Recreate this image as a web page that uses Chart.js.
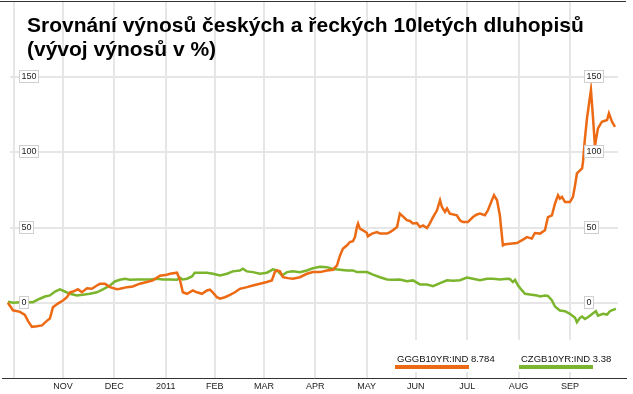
<!DOCTYPE html>
<html>
<head>
<meta charset="utf-8">
<script src="https://cdn.jsdelivr.net/npm/chart.js@4/dist/chart.umd.min.js"></script>
<style>
  html, body { margin: 0; padding: 0; background: #fff; }
  #wrap { width: 633px; height: 394px; position: relative; }
</style>
</head>
<body>
<div id="wrap"><canvas id="yields"></canvas></div>
<script>
/* ---- data: x = trading days since 1 Oct 2010, y = yield change in % ---- */
const titleLines  = ['Srovnání výnosů českých a řeckých 10letých dluhopisů', '(vývoj výnosů v %)'];
const monthStarts = [0, 21, 43, 65, 86, 107, 129, 151, 172, 194, 216, 238];
const monthLabels = ['', 'NOV', 'DEC', '2011', 'FEB', 'MAR', 'APR', 'MAY', 'JUN', 'JUL', 'AUG', 'SEP'];
const yTicks      = [0, 50, 100, 150];

const seriesNames = ['GGGB10YR:IND', 'CZGB10YR:IND'];
const lastValues  = ['8.784', '3.38'];

const grDays = [-2.6, -0.4, 2.6, 4.7, 6.0, 7.7, 9.8, 12.0, 14.1, 15.4, 16.7, 18.8, 21.0, 22.7, 24.0, 25.3,
  27.4, 29.1, 31.3, 33.4, 35.5, 36.8, 39.0, 41.1, 44.1, 45.4, 48.4, 50.9, 53.9, 56.9, 59.5, 62.5, 65.5,
  66.8, 69.8, 71.1, 72.3, 74.1, 76.6, 78.3, 80.5, 82.6, 83.9, 85.2, 86.9, 88.2, 90.3, 92.5, 94.6, 96.7,
  99.7, 102.3, 105.3, 108.3, 110.4, 111.7, 112.6, 113.9, 115.2, 117.3, 119.4, 122.4, 125.4, 128.0, 131.0,
  134.0, 136.6, 138.3, 139.6, 140.8, 142.6, 143.8, 145.1, 146.0, 146.8, 147.3, 148.1, 149.4, 151.1, 151.5,
  153.3, 155.4, 156.7, 159.7, 161.0, 162.2, 164.0, 165.2, 166.5, 168.2, 169.5, 170.8, 172.5, 173.8, 175.1,
  176.8, 178.1, 179.4, 181.1, 182.4, 183.2, 184.5, 185.4, 186.6, 189.6, 190.9, 192.2, 194.3, 196.5, 198.2,
  199.5, 201.6, 202.9, 204.6, 205.5, 206.8, 208.0, 209.3, 210.2, 212.3, 215.3, 217.9, 219.6, 221.7, 223.0,
  225.2, 227.3, 228.6, 230.3, 231.6, 232.9, 233.7, 234.6, 235.9, 238.0, 239.3, 240.2, 241.0, 243.2, 243.6,
  244.4, 245.3, 247.0, 247.9, 248.7, 249.1, 250.0, 251.7, 253.9, 254.7, 256.0, 257.3];
const grYield = [0, -5, -6, -8, -12, -16, -15.6, -15, -12, -10.5, -3, -0.5, 1.5, 3.7, 7, 7.5,
  9, 7, 9.7, 9.3, 11.5, 12.6, 12.6, 10.4, 9, 9.3, 10.4, 10.9, 12.7, 13.8, 14.9, 18, 18.7,
  19.3, 20, 15, 7, 6, 8.2, 7, 6, 8.2, 8.7, 6.7, 3.7, 2.7, 3.7, 5.3, 7, 9.3,
  10.4, 11.5, 12.7, 13.8, 14.9, 20.4, 21.5, 20.9, 17, 16.4, 16, 17, 19.3, 20.4, 20.4,
  21.5, 22, 24.9, 31.5, 36, 38.2, 40.4, 40.9, 43.7, 50.4, 52.7, 49.3, 48.2, 46.4, 44.2,
  46, 47, 46, 46, 47, 48.2, 50.4, 59.3, 57.5, 54.9, 54.4, 52.7, 53, 50.4, 51.5,
  49.7, 53, 57, 61.5, 68.2, 63.7, 60.4, 62.7, 59.3, 58.2, 54.9, 53.7, 53.7, 57, 58.7,
  59.3, 58.2, 61.5, 68.2, 71.5, 68.2, 58.2, 38.2, 38.9, 39.3, 39.7, 42, 43.7, 42.7, 46.4,
  46, 48.2, 57, 58.2, 66, 71.5, 69.3, 70.4, 67, 67, 70.4, 78.2, 86, 89.3, 93.7,
  109, 122.7, 141.5, 122.7, 104, 108, 116, 120.4, 121.5, 126, 120.4, 117];

const czDays = [-2.6, -0.4, 2.6, 6.0, 8.1, 11.1, 13.3, 15.4, 17.6, 19.7, 21.8, 24.0, 27.0, 29.5, 32.5,
  35.5, 38.1, 41.1, 43.2, 45.4, 47.5, 49.7, 52.7, 55.2, 58.2, 61.2, 63.8, 66.8, 69.8, 71.1, 72.3, 74.1,
  76.2, 77.4, 79.6, 82.6, 85.2, 88.2, 91.2, 93.7, 96.7, 98.0, 99.7, 102.3, 105.3, 108.3, 110.9, 112.6,
  114.7, 116.9, 119.4, 122.4, 125.4, 128.0, 131.0, 134.0, 136.6, 139.6, 142.6, 145.1, 146.8, 151.1, 153.7,
  156.7, 159.7, 162.2, 165.2, 168.2, 170.8, 173.8, 176.8, 179.4, 182.4, 185.4, 187.9, 190.9, 193.9, 196.5,
  199.5, 202.5, 205.1, 208.0, 211.0, 212.3, 213.6, 214.5, 215.8, 217.5, 218.8, 220.9, 223.9, 225.2, 227.3,
  228.6, 230.3, 231.6, 233.7, 235.9, 238.0, 240.2, 241.0, 242.3, 243.2, 244.4, 245.7, 247.9, 249.1, 250.0,
  252.1, 253.9, 255.1, 256.4, 257.7];
const czYield = [0.8, 0, 0.3, 0.3, 0.4, 2.7, 4.2, 4.9, 7.5, 8.9, 7.5, 6, 4.9, 5.3, 6,
  7, 8.9, 11.5, 14.2, 15.3, 16, 15.3, 15.5, 15.5, 15.5, 16, 15.5, 15.5, 15.3, 16.7, 15.5, 16,
  17.5, 20, 20, 20, 19.3, 18.2, 19.3, 20.9, 21.5, 22.7, 20.9, 20.4, 19.3, 20, 22.2, 21.5,
  18.2, 20.4, 20.9, 20.4, 21.5, 23, 24, 23.7, 22.5, 22, 21.5, 21.5, 20.4, 20.4, 18.7,
  17, 15.5, 15.3, 15.5, 14.4, 14.9, 12.2, 12.2, 11, 13.1, 15, 14.6, 15, 16.8, 16,
  15, 16, 16, 15.5, 16, 15.8, 13.8, 15.2, 11.5, 8.2, 6, 5.5, 4.9, 4.2, 4.8,
  4.5, 1.5, -2.5, -5.1, -5.6, -7.3, -10, -12.9, -10, -9.1, -10.7, -9.6, -6.9, -5.6, -8.5,
  -7.3, -7.8, -5.6, -4.7, -4];

const ORANGE = '#ec6a14';
const GREEN  = '#7ab52d';
const GRID   = '#e6e6e6';
const SMALL  = "'Liberation Sans', Arial, sans-serif";

const toPoints = (xs, ys) => xs.map((x, i) => ({ x: x, y: ys[i] }));

/* ---- plugin: title, top rule, horizontal grid, boxed y labels, legend ---- */
const decorPlugin = {
  id: 'decor',
  beforeDatasetsDraw(chart) {
    const { ctx, chartArea: a, scales: { y } } = chart;
    ctx.save();
    ctx.strokeStyle = GRID;
    ctx.lineWidth = 2;
    yTicks.forEach(v => {
      const py = Math.round(y.getPixelForValue(v));
      ctx.beginPath();
      ctx.moveTo(a.left + 8, py);
      ctx.lineTo(a.right - 8, py);
      ctx.stroke();
    });
    // top rule
    ctx.strokeStyle = '#333';
    ctx.lineWidth = 1;
    ctx.beginPath();
    ctx.moveTo(0, a.top - 0.5);
    ctx.lineTo(a.right, a.top - 0.5);
    ctx.stroke();
    ctx.restore();
  },
  afterDatasetsDraw(chart) {
    const { ctx, chartArea: a, scales: { y } } = chart;
    ctx.save();
    ctx.font = '9px ' + SMALL;
    ctx.textBaseline = 'middle';
    const xs = [a.left + 17, a.right - 42];
    yTicks.forEach(v => {
      const py = Math.round(y.getPixelForValue(v));
      const txt = String(v);
      const w = Math.round(ctx.measureText(txt).width) + 5;
      xs.forEach(bx => {
        ctx.fillStyle = '#fff';
        ctx.fillRect(bx, py - 7, w, 13);
        ctx.strokeStyle = '#cfcfcf';
        ctx.lineWidth = 1;
        ctx.strokeRect(bx + 0.5, py - 6.5, w - 1, 12);
        ctx.fillStyle = '#222';
        ctx.fillText(txt, bx + 2.5, py);
      });
    });
    ctx.restore();
  },
  afterDraw(chart) {
    const { ctx, chartArea: a } = chart;
    ctx.save();
    // title
    ctx.fillStyle = '#000';
    ctx.font = "bold 21px 'Liberation Sans', Arial, sans-serif";
    ctx.textBaseline = 'alphabetic';
    ctx.fillText(titleLines[0], 27, 32);
    ctx.fillText(titleLines[1], 27, 56);
    // legend
    ctx.fillStyle = '#fff';
    ctx.fillRect(388, 340, a.right - 388, 32);
    ctx.font = '9.5px ' + SMALL;
    const lx = [395, 519];
    chart.data.datasets.forEach((ds, i) => {
      ctx.fillStyle = '#111';
      ctx.fillText(seriesNames[i] + ' ' + lastValues[i], lx[i] + 2, 362);
      ctx.fillStyle = ds.borderColor;
      ctx.fillRect(lx[i], 365, 74, 4);
    });
    ctx.restore();
  }
};

new Chart(document.getElementById('yields'), {
  type: 'line',
  data: {
    datasets: [
      {
        label: seriesNames[0],
        data: toPoints(grDays, grYield),
        borderColor: ORANGE,
        borderWidth: 2.5,
        pointRadius: 0,
        tension: 0,
        fill: false
      },
      {
        label: seriesNames[1],
        data: toPoints(czDays, czYield),
        borderColor: GREEN,
        borderWidth: 2.5,
        pointRadius: 0,
        tension: 0,
        fill: false
      }
    ]
  },
  options: {
    responsive: true,
    maintainAspectRatio: false,
    animation: false,
    layout: { padding: { left: 2, right: 7, top: 2, bottom: 0 } },
    plugins: {
      legend: { display: false },
      tooltip: { enabled: false }
    },
    scales: {
      x: {
        type: 'linear',
        min: -5.1,
        max: 262,
        afterBuildTicks: scale => { scale.ticks = monthStarts.map(v => ({ value: v })); },
        afterFit: scale => { scale.height = 16; },
        grid: { color: GRID, lineWidth: 2, drawTicks: false },
        border: { display: true, color: '#333', width: 1 },
        ticks: {
          autoSkip: false,
          maxRotation: 0,
          padding: 3,
          color: '#222',
          font: { family: SMALL, size: 9 },
          callback: (v, i) => monthLabels[i]
        }
      },
      y: {
        type: 'linear',
        min: -50,
        max: 200,
        display: false
      }
    }
  },
  plugins: [decorPlugin]
});
</script>
</body>
</html>
